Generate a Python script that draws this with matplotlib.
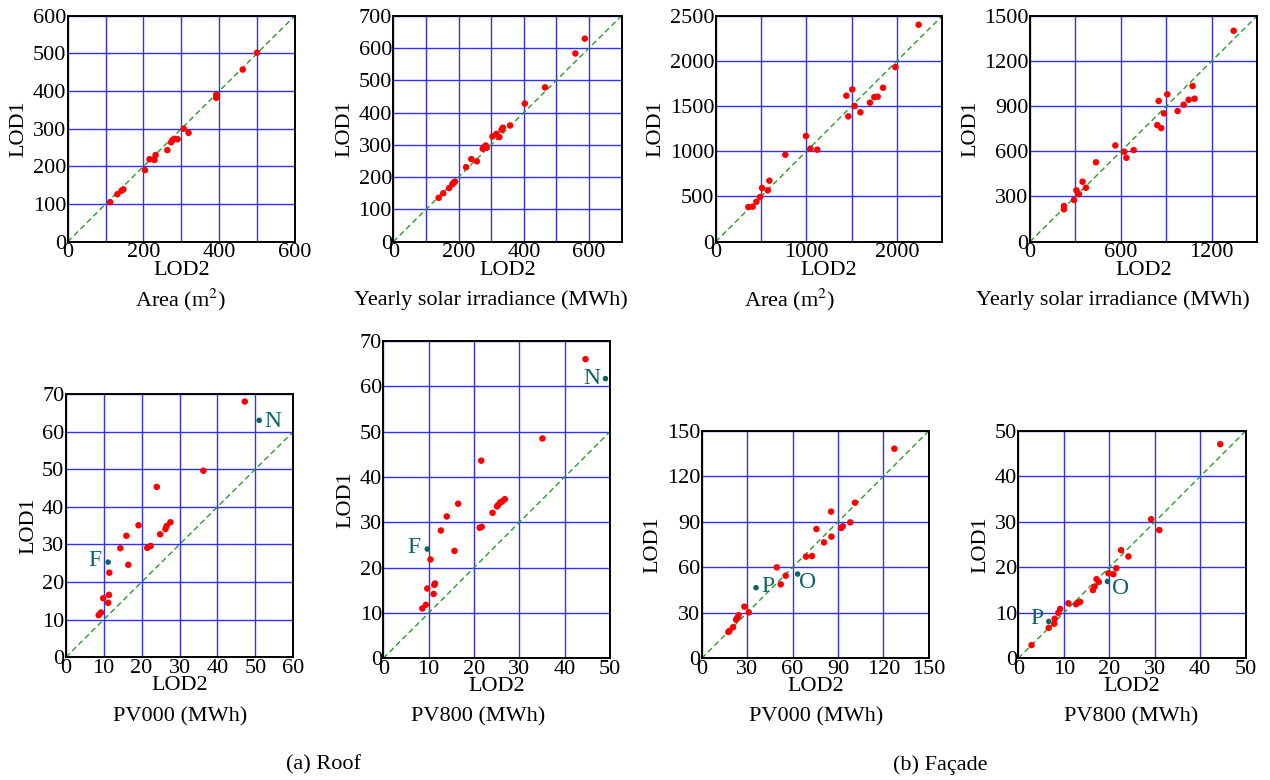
import matplotlib

matplotlib.use("Agg")
import matplotlib.pyplot as plt
from matplotlib.ticker import MultipleLocator

plt.rcParams["font.family"] = ["Liberation Serif", "DejaVu Serif"]
plt.rcParams["mathtext.fontset"] = "stix"

# (a) Roof -- area (m2)
roof_area_lod2 = [112, 131, 142, 147, 204, 216, 229, 232, 263, 273, 277, 282, 290, 306, 319, 392, 392, 462, 500]
roof_area_lod1 = [105, 126, 135, 139, 190, 219, 217, 230, 243, 264, 270, 273, 272, 300, 289, 390, 382, 457, 502]

# (a) Roof -- yearly solar irradiance (MWh)
roof_irr_lod2 = [139, 153, 171, 181, 185, 189, 223, 239, 256, 274, 280, 283, 286, 304, 316, 325, 332, 336,
                 358, 403, 465, 558, 587]
roof_irr_lod1 = [136, 150, 166, 178, 183, 186, 231, 256, 249, 288, 294, 298, 291, 326, 334, 324, 347, 353,
                 360, 428, 478, 583, 629]

# (b) Facade -- area (m2)
fac_area_lod2 = [360, 408, 449, 489, 511, 574, 592, 768, 996, 1044, 1121, 1441, 1463, 1507, 1533, 1596,
                 1702, 1750, 1787, 1846, 1982, 2239]
fac_area_lod1 = [383, 387, 442, 494, 594, 568, 675, 962, 1169, 1029, 1018, 1615, 1386, 1685, 1501, 1431,
                 1538, 1600, 1604, 1703, 1932, 2400]

# (b) Facade -- yearly solar irradiance (MWh)
fac_irr_lod2 = [224, 224, 290, 306, 323, 347, 369, 435, 563, 622, 636, 684, 840, 849, 866, 884, 906, 974,
                1014, 1047, 1073, 1086, 1344]
fac_irr_lod1 = [237, 215, 277, 341, 316, 398, 358, 527, 639, 597, 557, 608, 774, 934, 754, 852, 978, 867,
                909, 942, 1033, 949, 1400]

# (a) Roof -- PV000 (MWh)
roof_pv000_lod2 = [8.7, 9.3, 9.9, 11.2, 11.4, 11.5, 14.4, 16.0, 16.5, 19.2, 21.5, 22.4, 24.0, 24.9, 26.3,
                   26.6, 27.6, 36.3, 47.2]
roof_pv000_lod1 = [11.2, 11.9, 15.7, 14.5, 16.6, 22.5, 29.0, 32.3, 24.6, 35.1, 29.1, 29.6, 45.3, 32.7, 34.1,
                   34.9, 35.9, 49.6, 68.0]
roof_pv000_marked = [("F", 11.2, 25.3), ("N", 51.0, 63.0)]

# (a) Roof -- PV800 (MWh)
roof_pv800_lod2 = [8.6, 9.4, 9.7, 10.4, 11.1, 11.25, 11.4, 12.7, 14.0, 15.7, 16.5, 21.25, 21.7, 21.6, 24.1,
                   25.1, 25.3, 25.8, 26.2, 26.8, 35.1, 44.6]
roof_pv800_lod1 = [11.0, 11.8, 15.4, 21.8, 14.2, 16.2, 16.5, 28.2, 31.3, 23.7, 34.1, 28.8, 29.0, 43.6, 32.1,
                   33.5, 33.8, 34.4, 34.6, 35.1, 48.5, 66.0]
roof_pv800_marked = [("F", 9.7, 24.1), ("N", 49.0, 61.7)]

# (b) Facade -- PV000 (MWh)
fac_pv000_lod2 = [17.6, 18.3, 20.7, 22.7, 23.6, 24.4, 28.2, 31.1, 49.6, 52.2, 55.5, 68.9, 72.9, 75.8, 80.8,
                  85.5, 85.7, 92.1, 93.2, 98.2, 101.3, 127.3]
fac_pv000_lod1 = [17.4, 18.0, 20.5, 25.5, 26.8, 28.4, 34.1, 30.3, 60.0, 48.8, 54.5, 67.1, 67.5, 85.3, 76.5,
                  96.8, 80.3, 86.0, 87.1, 89.7, 102.7, 138.3]
fac_pv000_marked = [("P", 35.9, 46.6), ("O", 63.4, 55.6)]

# (b) Facade -- PV800 (MWh)
fac_pv800_lod2 = [2.9, 6.7, 7.9, 8.0, 8.8, 9.2, 11.0, 12.7, 13.05, 13.6, 16.4, 16.8, 17.2, 17.7, 19.8, 20.9,
                  21.55, 22.6, 24.2, 29.2, 31.0, 44.4]
fac_pv800_lod1 = [2.9, 6.7, 7.6, 8.7, 10.0, 10.85, 12.1, 11.9, 12.2, 12.4, 15.0, 15.8, 17.4, 16.8, 18.7, 18.5,
                  19.8, 23.8, 22.4, 30.6, 28.2, 47.1]
fac_pv800_marked = [("P", 6.7, 8.1), ("O", 19.6, 16.9)]

W, H = 1270, 780
FS = 16
GRID = "#2f2fff"
TEAL = "#0d6464"


def add_panel(fig, rect_px, x, y, xmax, ymax, xlab_step, ylab_step, grid_step, title, title_xy,
              marked=(), label_offsets=()):
    left, top, right, bottom = rect_px
    ax = fig.add_axes([left / W, 1 - bottom / H, (right - left) / W, (bottom - top) / H])
    ax.set_xlim(0, xmax)
    ax.set_ylim(0, ymax)
    ax.xaxis.set_major_locator(MultipleLocator(xlab_step))
    ax.yaxis.set_major_locator(MultipleLocator(ylab_step))
    ax.xaxis.set_minor_locator(MultipleLocator(grid_step))
    ax.yaxis.set_minor_locator(MultipleLocator(grid_step))
    ax.grid(True, which="both", color=GRID, lw=1.0)
    ax.set_axisbelow(True)
    ax.tick_params(which="both", length=0, labelsize=FS, pad=1)
    for s in ax.spines.values():
        s.set_linewidth(1.4)
        s.set_zorder(5)
    lim = min(xmax, ymax)
    ax.plot([0, lim], [0, lim], ls=(0, (4, 2.5)), color="#2a9a2a", lw=1.0, zorder=2)
    ax.scatter(x, y, s=22, color="#ff0000", edgecolors="none", zorder=3, clip_on=False)
    for (name, px, py), (dx, dy, ha) in zip(marked, label_offsets):
        ax.scatter([px], [py], s=16, color=TEAL, edgecolors="none", zorder=4, clip_on=False)
        ax.annotate(name, (px, py), xytext=(dx, dy), textcoords="offset points", ha=ha, va="center",
                    fontsize=FS + 1, color=TEAL, annotation_clip=False)
    ax.set_xlabel("LOD2", fontsize=FS, labelpad=-1)
    ax.set_ylabel("LOD1", fontsize=FS, labelpad=3)
    fig.text(title_xy[0] / W, 1 - title_xy[1] / H, title, fontsize=FS, ha="center", va="center")
    return ax


fig = plt.figure(figsize=(12.7, 7.8), dpi=100)

add_panel(fig, (67.7, 15.7, 295, 241.7), roof_area_lod2, roof_area_lod1, 600, 600, 200, 100, 100,
          "Area (m$^2$)", (181, 300))
add_panel(fig, (393.3, 15.7, 621.7, 241.7), roof_irr_lod2, roof_irr_lod1, 700, 700, 200, 100, 100,
          "Yearly solar irradiance (MWh)", (491, 300))
add_panel(fig, (715.7, 15.7, 942.3, 241.7), fac_area_lod2, fac_area_lod1, 2500, 2500, 1000, 500, 500,
          "Area (m$^2$)", (790, 300))
add_panel(fig, (1030, 15.7, 1257.3, 241.7), fac_irr_lod2, fac_irr_lod1, 1500, 1500, 600, 300, 300,
          "Yearly solar irradiance (MWh)", (1113, 300))

add_panel(fig, (65.7, 394, 293.3, 657.3), roof_pv000_lod2, roof_pv000_lod1, 60, 70, 10, 10, 10,
          "PV000 (MWh)", (180, 717), roof_pv000_marked, [(-5, 1, "right"), (4, -1, "left")])
add_panel(fig, (383.3, 341, 610, 658.3), roof_pv800_lod2, roof_pv800_lod1, 50, 70, 10, 10, 10,
          "PV800 (MWh)", (478, 717), roof_pv800_marked, [(-5, 1, "right"), (-4, 0, "right")])
add_panel(fig, (701.7, 431, 928.7, 658.3), fac_pv000_lod2, fac_pv000_lod1, 150, 150, 30, 30, 30,
          "PV000 (MWh)", (816, 717), fac_pv000_marked, [(4, 1, "left"), (1, -6, "left")])
add_panel(fig, (1018.3, 431, 1245.7, 658.3), fac_pv800_lod2, fac_pv800_lod1, 50, 50, 10, 10, 10,
          "PV800 (MWh)", (1131, 717), fac_pv800_marked, [(-4, 2, "right"), (3, -5, "left")])

fig.text(323 / W, 1 - 765 / H, "(a) Roof", fontsize=FS, ha="center", va="center")
fig.text(940 / W, 1 - 765 / H, "(b) Façade", fontsize=FS, ha="center", va="center")

fig.savefig("out.png", dpi=100)
